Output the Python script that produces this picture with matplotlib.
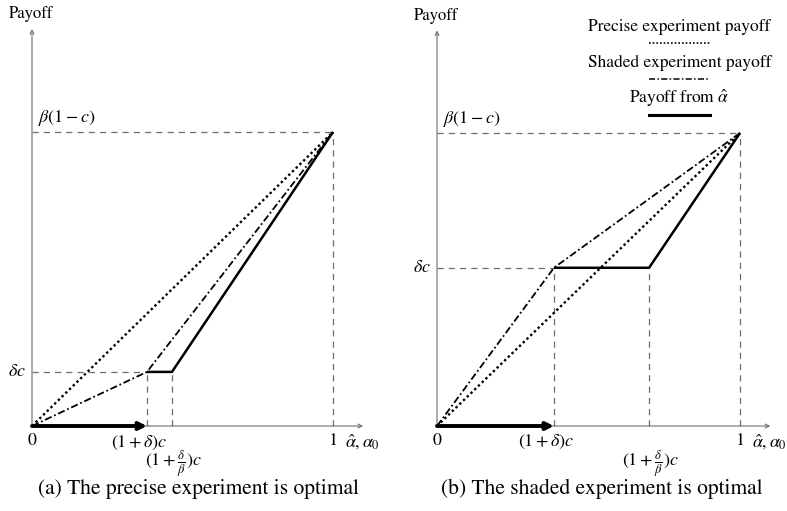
import matplotlib.pyplot as plt

plt.rcParams['font.family'] = 'STIXGeneral'
plt.rcParams['mathtext.fontset'] = 'stix'

# x in units of alpha (0..1), y in units of beta(1-c) (0..1)
kink_x = [0.382, 0.386]       # (1+delta)c
flat_end_x = [0.465, 0.70]    # (1+delta/beta)c
delta_c = [0.184, 0.54]
top_y = [1.0, 1.0]
captions = ["(a) The precise experiment is optimal",
            "(b) The shaded experiment is optimal"]
legend_labels = ["Precise experiment payoff", "Shaded experiment payoff",
                 r"Payoff from $\hat{\alpha}$"]

gray = '#6e6e6e'
fig = plt.figure(figsize=(7.87, 5.11), dpi=100)
axes = [fig.add_axes([32/787, 85/511, 301/787, 294/511]),
        fig.add_axes([437/787, 85/511, 303/787, 293/511])]

dot = (0, (1, 1.2))
dashdot = (0, (4, 1.5, 1, 1.5))

for i, ax in enumerate(axes):
    kx, fx, dc, ty = kink_x[i], flat_end_x[i], delta_c[i], top_y[i]
    ax.set_xlim(0, 1)
    ax.set_ylim(0, 1)
    ax.axis('off')

    # axes with arrows
    ax.annotate('', xy=(1.10, 0), xytext=(0, 0),
                arrowprops=dict(arrowstyle='->', lw=0.8, color=gray, shrinkA=0, shrinkB=0,
                                mutation_scale=7), annotation_clip=False)
    ax.annotate('', xy=(0, 1.35), xytext=(0, 0),
                arrowprops=dict(arrowstyle='->', lw=0.8, color=gray, shrinkA=0, shrinkB=0,
                                mutation_scale=7), annotation_clip=False)

    # dashed guides
    kw = dict(color=gray, lw=0.9, ls=(0, (5, 4)), clip_on=False)
    ax.plot([0, 1], [ty, ty], **kw)
    ax.plot([1, 1], [0, ty], **kw)
    ax.plot([0, kx], [dc, dc], **kw)
    ax.plot([kx, kx], [0, dc], **kw)
    ax.plot([fx, fx], [0, dc], **kw)

    # payoff lines
    ax.plot([0, 1], [0, ty], color='k', lw=1.7, ls=dot, clip_on=False)
    ax.plot([0, kx, 1], [0, dc, ty], color='k', lw=1.3, ls=dashdot, clip_on=False)
    ax.plot([kx, fx, 1], [dc, dc, ty], color='k', lw=1.8, clip_on=False,
            solid_capstyle='butt')

    # thick arrow
    ax.annotate('', xy=(kx, 0), xytext=(0, 0),
                arrowprops=dict(arrowstyle='-|>', lw=2.8, color='k', shrinkA=0, shrinkB=0,
                                mutation_scale=11), annotation_clip=False)

    # labels
    ax.text(-0.003, 1.40, 'Payoff', ha='center', va='center', fontsize=12)
    ax.text(0.02, ty + 0.048, r'$\beta(1-c)$', ha='left', va='center', fontsize=13)
    ax.text(-0.02, dc, r'$\delta c$', ha='right', va='center', fontsize=13)
    ax.text(0, -0.025, r'$0$', ha='center', va='top', fontsize=13)
    ax.text(kx - 0.025, -0.025, r'$(1+\delta)c$', ha='center', va='top', fontsize=13)
    ax.text(fx + 0.005, -0.075, r'$(1+\frac{\delta}{\beta})c$', ha='center', va='top',
            fontsize=13)
    ax.text(1, -0.025, r'$1$', ha='center', va='top', fontsize=13)
    ax.text(1.04, -0.025, r'$\hat{\alpha},\alpha_0$', ha='left', va='top', fontsize=13)

fig.text(198/787, 1 - 489/511, captions[0], ha='center', va='center', fontsize=15.5)
fig.text(602/787, 1 - 489/511, captions[1], ha='center', va='center', fontsize=15.5)

# legend in panel b
ax = axes[1]
styles = [dict(ls=dot, lw=1.2), dict(ls=dashdot, lw=1.1), dict(ls='-', lw=2.2)]
text_y = [1.362, 1.239, 1.119]
line_y = [1.307, 1.184, 1.061]
for lab, st, yt, yl in zip(legend_labels, styles, text_y, line_y):
    ax.text(0.80, yt, lab, ha='center', va='center', fontsize=12.5)
    ax.plot([0.70, 0.90], [yl, yl], color='k', clip_on=False, **st)

fig.savefig('out.png', dpi=100)
